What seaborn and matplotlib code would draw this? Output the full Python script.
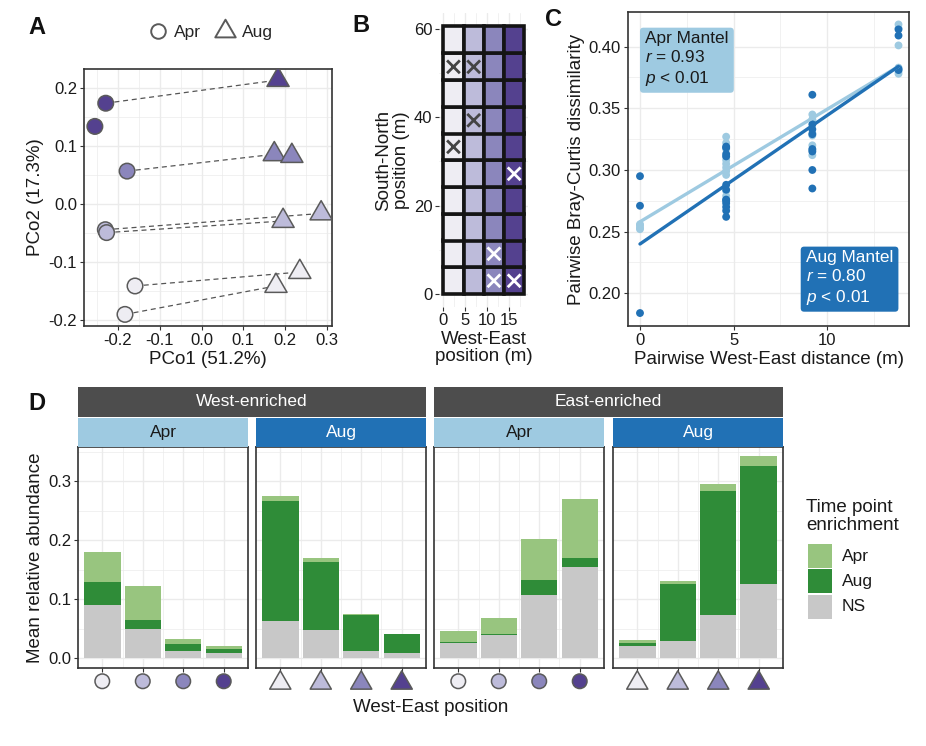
import numpy as np
import pandas as pd
import matplotlib
matplotlib.use("Agg")
import matplotlib.pyplot as plt
import seaborn as sns
from matplotlib.lines import Line2D
from matplotlib.patches import Rectangle
from matplotlib.path import Path

sns.set_theme(style="white")
plt.rcParams['font.family'] = ['Liberation Sans', 'DejaVu Sans']
plt.rcParams['axes.unicode_minus'] = False
plt.rcParams['mathtext.fontset'] = 'custom'
plt.rcParams['mathtext.it'] = 'Liberation Sans:italic'
plt.rcParams['mathtext.rm'] = 'Liberation Sans'

# ------------------------------------------------------------------ data
purple_levels = ['#EEEDF3', '#BDBBDA', '#8B86BC', '#54418F']

# Panel A: PCoA
pco_apr_x = [-0.229, -0.255, -0.178, -0.230, -0.227, -0.159, -0.183]
pco_apr_y = [0.174, 0.134, 0.057, -0.044, -0.049, -0.141, -0.190]
pco_apr_level = [3, 3, 2, 1, 1, 0, 0]
pco_aug_x = [0.183, 0.174, 0.216, 0.286, 0.195, 0.235, 0.178]
pco_aug_y = [0.214, 0.086, 0.083, -0.016, -0.029, -0.117, -0.141]
pco_aug_level = [3, 2, 2, 1, 1, 0, 0]
pair_apr = [0, 2, 3, 4, 5, 6]
pair_aug = [0, 1, 3, 4, 5, 6]

# Panel B: sampling grid
we_tiles = [2.3, 6.9, 11.5, 16.1]
sn_tiles = [3.0, 9.1, 15.1, 21.2, 27.2, 33.3, 39.3, 45.4, 51.4, 57.5]
excl_we = [2.3, 6.9, 2.3, 6.9, 16.1, 11.5, 11.5, 16.1]
excl_sn = [51.4, 51.4, 33.3, 39.3, 27.2, 9.1, 3.0, 3.0]
excl_col = [0, 1, 0, 1, 3, 2, 2, 3]

# Panel C: distance decay
apr_d0 = [0.256, 0.253, 0.255, 0.252]
apr_d46 = [0.327, 0.322, 0.317, 0.311, 0.308, 0.305, 0.302, 0.299, 0.296, 0.283, 0.279, 0.276]
apr_d92 = [0.345, 0.341, 0.340, 0.330, 0.328, 0.320, 0.316, 0.312]
apr_d138 = [0.418, 0.415, 0.401, 0.383, 0.380, 0.378]
aug_d0 = [0.295, 0.271, 0.184]
aug_d46 = [0.319, 0.318, 0.313, 0.311, 0.288, 0.284, 0.276, 0.275, 0.273, 0.270, 0.267, 0.262]
aug_d92 = [0.361, 0.337, 0.333, 0.329, 0.317, 0.315, 0.300, 0.285]
aug_d138 = [0.414, 0.409, 0.382, 0.381]
dist_levels = [0.0, 4.6, 9.2, 13.8]
fit_x = [0.0, 13.8]
apr_fit_y = [0.258, 0.384]
aug_fit_y = [0.240, 0.384]

# Panel D: mean relative abundance (NS, Aug, Apr segments)
positions = ['1', '2', '3', '4']
west_apr_ns = [0.090, 0.050, 0.011, 0.009]
west_apr_aug = [0.039, 0.015, 0.012, 0.006]
west_apr_apr = [0.050, 0.057, 0.010, 0.006]
west_aug_ns = [0.063, 0.047, 0.011, 0.0085]
west_aug_aug = [0.203, 0.116, 0.062, 0.0315]
west_aug_apr = [0.009, 0.007, 0.001, 0.001]
east_apr_ns = [0.025, 0.039, 0.107, 0.155]
east_apr_aug = [0.0015, 0.002, 0.025, 0.014]
east_apr_apr = [0.020, 0.027, 0.070, 0.100]
east_aug_ns = [0.020, 0.029, 0.073, 0.125]
east_aug_aug = [0.005, 0.097, 0.211, 0.200]
east_aug_apr = [0.005, 0.005, 0.011, 0.018]
enrichment_labels = ['Apr', 'Aug', 'NS']

# ------------------------------------------------------------------ style
W, H = 926, 746
C_APR = '#9ECAE1'
C_AUG = '#2171B5'
G_APR = '#98C57F'
G_AUG = '#2F8C38'
G_NS = '#C8C8C8'
GRID = '#EBEBEB'
FRAME = '#333333'
TXT = '#1a1a1a'
TICK_FS = 12
TITLE_FS = 13.5

tri_marker = Path([(-1, -0.577), (1, -0.577), (0, 1.155), (-1, -0.577)],
                  [Path.MOVETO, Path.LINETO, Path.LINETO, Path.CLOSEPOLY])

fig = plt.figure(figsize=(W / 100, H / 100), dpi=100)


def px_axes(x0, y0, x1, y1):
    return fig.add_axes([x0 / W, 1 - y1 / H, (x1 - x0) / W, (y1 - y0) / H])


def gg_axes(ax, frame=True):
    ax.set_facecolor('white')
    ax.set_axisbelow(True)
    ax.grid(True, which='major', color=GRID, lw=1.0)
    ax.grid(True, which='minor', color=GRID, lw=0.5)
    for s in ax.spines.values():
        s.set_visible(frame)
        s.set_color(FRAME)
        s.set_linewidth(1.2)
    ax.tick_params(axis='both', which='major', length=3, width=0.8, color=FRAME,
                   labelsize=TICK_FS, labelcolor=TXT, pad=2,
                   bottom=True, left=True)
    ax.tick_params(axis='both', which='minor', length=0)


# ------------------------------------------------------------------ Panel A
axA = px_axes(84, 69, 332, 326)
gg_axes(axA)
for ia, ig in zip(pair_apr, pair_aug):
    axA.plot([pco_apr_x[ia], pco_aug_x[ig]], [pco_apr_y[ia], pco_aug_y[ig]],
             ls=(0, (4, 3)), color='#555555', lw=0.9, zorder=2)
dfA_apr = pd.DataFrame({'x': pco_apr_x, 'y': pco_apr_y, 'lvl': pco_apr_level})
dfA_aug = pd.DataFrame({'x': pco_aug_x, 'y': pco_aug_y, 'lvl': pco_aug_level})
sns.scatterplot(data=dfA_apr, x='x', y='y', hue='lvl', palette=purple_levels,
                hue_order=[0, 1, 2, 3], marker='o', s=125, edgecolor='#5A5A5A',
                linewidth=1.1, legend=False, ax=axA, zorder=3)
sns.scatterplot(data=dfA_aug, x='x', y='y', hue='lvl', palette=purple_levels,
                hue_order=[0, 1, 2, 3], marker=tri_marker, s=340, edgecolor='#5A5A5A',
                linewidth=1.1, legend=False, ax=axA, zorder=3)
axA.set_xlim(-0.281, 0.312)
axA.set_ylim(-0.21, 0.233)
axA.set_xticks([-0.2, -0.1, 0.0, 0.1, 0.2, 0.3])
axA.set_xticklabels(['-0.2', '-0.1', '0.0', '0.1', '0.2', '0.3'])
axA.set_yticks([-0.2, -0.1, 0.0, 0.1, 0.2])
axA.set_yticklabels(['-0.2', '-0.1', '0.0', '0.1', '0.2'])
axA.set_xticks([-0.25, -0.15, -0.05, 0.05, 0.15, 0.25], minor=True)
axA.set_yticks([-0.15, -0.05, 0.05, 0.15], minor=True)
axA.set_xlabel('PCo1 (51.2%)', fontsize=TITLE_FS, color=TXT, labelpad=2)
axA.set_ylabel('PCo2 (17.3%)', fontsize=TITLE_FS, color=TXT, labelpad=3)

legA = [Line2D([], [], marker='o', ls='none', mfc='none', mec='#5A5A5A', mew=1.4,
               ms=10.5, label='Apr'),
        Line2D([], [], marker=tri_marker, ls='none', mfc='none', mec='#5A5A5A', mew=1.4,
               ms=17, label='Aug')]
fig.legend(handles=legA, loc='center', bbox_to_anchor=(210 / W, 1 - 32 / H), ncol=2,
           frameon=False, fontsize=12.5, handletextpad=0.35, columnspacing=0.8,
           handlelength=1.2, borderaxespad=0)

# ------------------------------------------------------------------ Panel B
axB = px_axes(439.3, 12.9, 528.3, 307.3)
gg_axes(axB, frame=False)
tiles = pd.DataFrame([(we, sn, j) for j, we in enumerate(we_tiles) for sn in sn_tiles],
                     columns=['we', 'sn', 'col'])
axB.bar(tiles['we'], 6.05, bottom=tiles['sn'] - 3.025, width=4.6,
        color=[purple_levels[c] for c in tiles['col']], edgecolor='#141414',
        linewidth=2.6, zorder=2)
dfX = pd.DataFrame({'we': excl_we, 'sn': excl_sn, 'col': excl_col})
dfX['kind'] = np.where(dfX['col'] >= 2, 'light', 'dark')
sns.scatterplot(data=dfX, x='we', y='sn', hue='kind',
                palette={'dark': '#444444', 'light': '#FFFFFF'}, marker='x', s=85,
                linewidth=2.0, legend=False, ax=axB, zorder=3)
axB.set_xlim(-0.92, 19.32)
axB.set_ylim(-3.0, 63.6)
axB.set_xticks([0, 5, 10, 15])
axB.set_xticklabels(['0', '5', '10', '15'])
axB.set_yticks([0, 20, 40, 60])
axB.set_xticks([2.5, 7.5, 12.5, 17.5], minor=True)
axB.set_yticks([10, 30, 50], minor=True)
axB.tick_params(axis='x', pad=1)
axB.set_xlabel('West-East\nposition (m)', fontsize=TITLE_FS, color=TXT, labelpad=2,
               linespacing=1.0)
axB.set_ylabel('South-North\nposition (m)', fontsize=TITLE_FS, color=TXT, labelpad=3,
               linespacing=1.0)

# ------------------------------------------------------------------ Panel C
axC = px_axes(628, 12, 909, 326)
gg_axes(axC)
rows = []
for month, groups in (('Apr', [apr_d0, apr_d46, apr_d92, apr_d138]),
                      ('Aug', [aug_d0, aug_d46, aug_d92, aug_d138])):
    for d, vals in zip(dist_levels, groups):
        for v in vals:
            rows.append((month, d, v))
dfC = pd.DataFrame(rows, columns=['month', 'dist', 'bc'])
sns.scatterplot(data=dfC, x='dist', y='bc', hue='month',
                palette={'Apr': C_APR, 'Aug': C_AUG}, s=32, edgecolor='none',
                legend=False, ax=axC, zorder=3)
sns.lineplot(x=fit_x, y=apr_fit_y, color=C_APR, lw=2.4, ax=axC, zorder=4)
sns.lineplot(x=fit_x, y=aug_fit_y, color=C_AUG, lw=2.4, ax=axC, zorder=4)
axC.set_xlim(-0.64, 14.36)
axC.set_ylim(0.1735, 0.4281)
axC.set_xticks([0, 5, 10])
axC.set_xticklabels(['0', '5', '10'])
axC.set_yticks([0.20, 0.25, 0.30, 0.35, 0.40])
axC.set_yticklabels(['0.20', '0.25', '0.30', '0.35', '0.40'])
axC.set_xticks([2.5, 7.5, 12.5], minor=True)
axC.set_yticks([0.225, 0.275, 0.325, 0.375], minor=True)
axC.set_xlabel('Pairwise West-East distance (m)', fontsize=TITLE_FS, color=TXT, labelpad=2)
axC.set_ylabel('Pairwise Bray-Curtis dissimilarity', fontsize=TITLE_FS, color=TXT,
               labelpad=3)
axC.text(0.061, 0.94, 'Apr Mantel\n$r$ = 0.93\n$p$ < 0.01', transform=axC.transAxes,
         ha='left', va='top', fontsize=12.4, color=TXT, linespacing=1.25, zorder=5,
         bbox=dict(boxstyle='round,pad=0.3,rounding_size=0.2', fc=C_APR, ec='none'))
axC.text(0.633, 0.062, 'Aug Mantel\n$r$ = 0.80\n$p$ < 0.01', transform=axC.transAxes,
         ha='left', va='bottom', fontsize=12.4, color='white', linespacing=1.25, zorder=5,
         bbox=dict(boxstyle='round,pad=0.3,rounding_size=0.2', fc=C_AUG, ec='none'))

# ------------------------------------------------------------------ Panel D
panels = [('West-enriched', 'Apr', west_apr_ns, west_apr_aug, west_apr_apr),
          ('West-enriched', 'Aug', west_aug_ns, west_aug_aug, west_aug_apr),
          ('East-enriched', 'Apr', east_apr_ns, east_apr_aug, east_apr_apr),
          ('East-enriched', 'Aug', east_aug_ns, east_aug_aug, east_aug_apr)]
p_left = [78, 256, 434, 613]
p_w = 170
d_top, d_bot = 447, 668
bar_kw = dict(saturation=1, width=0.9, errorbar=None, linewidth=0, edgecolor='none',
              zorder=2)
for i, (grp, month, ns, aug, apr) in enumerate(panels):
    ax = px_axes(p_left[i], d_top, p_left[i] + p_w, d_bot)
    ns = np.array(ns)
    aug = np.array(aug)
    apr = np.array(apr)
    sns.barplot(x=positions, y=ns + aug + apr, color=G_APR, ax=ax, **bar_kw)
    sns.barplot(x=positions, y=ns + aug, color=G_AUG, ax=ax, **bar_kw)
    sns.barplot(x=positions, y=ns, color=G_NS, ax=ax, **bar_kw)
    gg_axes(ax)
    ax.set_xlim(-0.6, 3.6)
    ax.set_ylim(-0.017, 0.358)
    ax.set_xticks([0, 1, 2, 3])
    ax.set_xticks([0.5, 1.5, 2.5], minor=True)
    ax.set_yticks([0.0, 0.1, 0.2, 0.3])
    ax.set_yticks([0.05, 0.15, 0.25, 0.35], minor=True)
    ax.set_xticklabels([])
    ax.set_xlabel('')
    if i == 0:
        ax.set_yticklabels(['0.0', '0.1', '0.2', '0.3'])
        ax.set_ylabel('Mean relative abundance', fontsize=TITLE_FS, color=TXT, labelpad=3)
    else:
        ax.set_yticklabels([])
        ax.set_ylabel('')
        ax.tick_params(axis='y', which='major', length=0)
    if month == 'Apr':
        ax.scatter(range(4), [-0.06] * 4, transform=ax.get_xaxis_transform(),
                   marker='o', s=110, c=purple_levels, edgecolors='#5A5A5A',
                   linewidths=1.1, clip_on=False, zorder=5)
    else:
        ax.scatter(range(4), [-0.068] * 4, transform=ax.get_xaxis_transform(),
                   marker=tri_marker, s=310, c=purple_levels, edgecolors='#5A5A5A',
                   linewidths=1.1, clip_on=False, zorder=5)
    # inner strip
    sax = px_axes(p_left[i], 418, p_left[i] + p_w, 447)
    sax.set_facecolor(C_APR if month == 'Apr' else C_AUG)
    sax.set_xticks([])
    sax.set_yticks([])
    for s in sax.spines.values():
        s.set_visible(False)
    sax.text(0.5, 0.5, month, ha='center', va='center', fontsize=12.5,
             color=TXT if month == 'Apr' else 'white', transform=sax.transAxes)

for g, grp in enumerate(['West-enriched', 'East-enriched']):
    oax = px_axes(p_left[2 * g], 387, p_left[2 * g + 1] + p_w, 417)
    oax.set_facecolor('#4D4D4D')
    oax.set_xticks([])
    oax.set_yticks([])
    for s in oax.spines.values():
        s.set_visible(False)
    oax.text(0.5, 0.5, grp, ha='center', va='center', fontsize=12.5, color='white',
             transform=oax.transAxes)

fig.text(431 / W, 1 - 707 / H, 'West-East position', ha='center', va='center',
         fontsize=TITLE_FS, color=TXT)

# legend for panel D (drawn in figure pixels)
fig.text(806 / W, 1 - 499 / H, 'Time point\nenrichment', ha='left', va='top',
         fontsize=13.5, color=TXT, linespacing=1.05)
for k, (lab, col) in enumerate(zip(enrichment_labels, [G_APR, G_AUG, G_NS])):
    top = 544 + k * 25.3
    fig.patches.append(Rectangle((808 / W, 1 - (top + 24) / H), 24 / W, 24 / H,
                                 transform=fig.transFigure, facecolor=col,
                                 edgecolor='none'))
    fig.text(842 / W, 1 - (top + 12) / H, lab, ha='left', va='center',
             fontsize=12.5, color=TXT)

# ------------------------------------------------------------------ panel letters
for letter, x, y in (('A', 28, 27), ('B', 352, 25), ('C', 545, 20), ('D', 28, 403)):
    fig.text(x / W, 1 - y / H, letter, fontsize=17, fontweight='bold', ha='left',
             va='center', color='#111111')

fig.savefig('out.png', dpi=100, facecolor='white')
